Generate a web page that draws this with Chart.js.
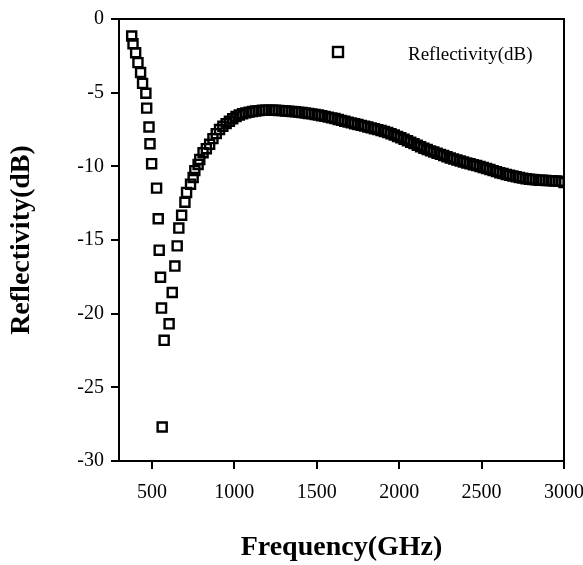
<!DOCTYPE html>
<html>
<head>
<meta charset="utf-8">
<script src="https://cdn.jsdelivr.net/npm/chart.js@4.4.1/dist/chart.umd.min.js"></script>
<style>
  body { margin: 0; background: #fff; }
  canvas { display: block; }
</style>
</head>
<body>
<canvas id="myChart" width="583" height="565"></canvas>
<script>
const freqGHz = [
  377, 385, 401, 415, 431, 443, 463, 468, 482, 488, 498, 528, 538, 544, 552, 558, 574, 562,
  604, 623, 639, 653, 663, 680, 700, 710, 734, 750, 760, 780, 790, 810,
  830, 850, 870, 890, 910, 930, 950, 970, 990, 1010, 1030, 1050, 1070, 1090, 1110, 1130, 1150, 1170, 1190,
  1210, 1230, 1250, 1270, 1290, 1310, 1330, 1350, 1370, 1390, 1410, 1430, 1450, 1470, 1490,
  1510, 1530, 1550, 1570, 1590, 1610, 1630, 1650, 1670, 1690, 1710, 1730, 1750, 1770, 1790,
  1810, 1830, 1850, 1870, 1890, 1910, 1930, 1950, 1970, 1990, 2010, 2030, 2050, 2070, 2090,
  2110, 2130, 2150, 2170, 2190, 2210, 2230, 2250, 2270, 2290, 2310, 2330, 2350, 2370, 2390,
  2410, 2430, 2450, 2470, 2490, 2510, 2530, 2550, 2570, 2590, 2610, 2630, 2650, 2670, 2690,
  2710, 2730, 2750, 2770, 2790, 2810, 2830, 2850, 2870, 2890, 2910, 2930, 2950, 2970, 3000
];
const reflDb = [
  -1.16, -1.68, -2.29, -2.96, -3.63, -4.37, -5.04, -6.05, -7.33, -8.47, -9.82, -11.48, -13.56, -15.69, -17.53, -19.62, -21.81, -27.69,
  -20.69, -18.56, -16.77, -15.40, -14.19, -13.32, -12.44, -11.77, -11.21, -10.76, -10.29, -9.87, -9.53, -9.08,
  -8.80, -8.50, -8.12, -7.78, -7.50, -7.28, -7.10, -6.94, -6.77, -6.62, -6.51, -6.43, -6.37, -6.32, -6.28, -6.25, -6.22, -6.20, -6.19,
  -6.19, -6.19, -6.20, -6.21, -6.22, -6.24, -6.26, -6.28, -6.30, -6.32, -6.35, -6.38, -6.41, -6.44, -6.48,
  -6.51, -6.56, -6.61, -6.66, -6.71, -6.76, -6.82, -6.88, -6.94, -7.00, -7.05, -7.11, -7.16, -7.22, -7.27,
  -7.33, -7.39, -7.45, -7.51, -7.57, -7.64, -7.71, -7.79, -7.88, -7.97, -8.06, -8.16, -8.26, -8.36, -8.46,
  -8.57, -8.67, -8.77, -8.86, -8.95, -9.03, -9.11, -9.19, -9.27, -9.35, -9.43, -9.50, -9.57, -9.64, -9.71,
  -9.77, -9.83, -9.89, -9.95, -10.01, -10.08, -10.15, -10.22, -10.29, -10.36, -10.43, -10.49, -10.55, -10.61, -10.66,
  -10.71, -10.76, -10.80, -10.84, -10.87, -10.90, -10.92, -10.94, -10.95, -10.96, -10.97, -10.98, -10.99, -11.01, -11.10
];
const xTicks = [500, 1000, 1500, 2000, 2500, 3000];
const yTicks = [0, -5, -10, -15, -20, -25, -30];
const seriesName = 'Reflectivity(dB)';

const serif = '"Liberation Serif", "Times New Roman", serif';

// box round the plot, plus the legend that sits inside it
const framePlugin = {
    id: 'frame',
    afterDraw(chart) {
        const ctx = chart.ctx;
        const a = chart.chartArea;
        ctx.save();
        ctx.strokeStyle = '#000';
        ctx.lineWidth = 2;
        ctx.strokeRect(a.left, a.top, a.right - a.left, a.bottom - a.top);

        // legend entry
        ctx.lineWidth = 2.4;
        ctx.strokeRect(333, 47, 10, 10);
        ctx.fillStyle = '#000';
        ctx.font = '19px ' + serif;
        ctx.textBaseline = 'middle';
        ctx.fillText(seriesName, 408, 55);
        ctx.restore();
    }
};

const points = freqGHz.map((f, i) => ({x: f, y: reflDb[i]}));

new Chart(document.getElementById('myChart').getContext('2d'), {
    type: 'scatter',
    data: {
        datasets: [{
            label: seriesName,
            data: points,
            pointStyle: 'rect',
            pointRadius: 6.4,
            pointBorderWidth: 2.4,
            borderColor: '#000',
            backgroundColor: 'rgba(0,0,0,0)'
        }]
    },
    options: {
        responsive: false,
        animation: false,
        layout: {padding: {top: 13, right: 0, left: 0, bottom: 0}},
        plugins: {
            legend: {display: false},
            tooltip: {enabled: false}
        },
        scales: {
            x: {
                type: 'linear',
                min: 300,
                max: 3000,
                afterBuildTicks: s => { s.ticks = xTicks.map(v => ({value: v})); },
                afterFit: s => {
                    s.height = 104;
                    s.paddingLeft = 0;
                    s.paddingRight = 19;
                },
                border: {display: true, color: '#000', width: 2},
                grid: {drawOnChartArea: false, drawTicks: true, tickLength: 8, color: '#000', lineWidth: 2},
                ticks: {
                    color: '#000',
                    font: {family: serif, size: 20},
                    padding: 12,
                    maxRotation: 0,
                    callback: v => String(v)
                },
                title: {
                    display: true,
                    text: 'Frequency(GHz)',
                    color: '#000',
                    font: {family: serif, size: 28, weight: 'bold'},
                    padding: {top: 0, bottom: 0}
                }
            },
            y: {
                type: 'linear',
                min: -30,
                max: 0,
                afterBuildTicks: s => { s.ticks = yTicks.map(v => ({value: v})); },
                afterFit: s => { s.width = 119; },
                border: {display: true, color: '#000', width: 2},
                grid: {drawOnChartArea: false, drawTicks: true, tickLength: 8, color: '#000', lineWidth: 2},
                ticks: {color: '#000', font: {family: serif, size: 20}, padding: 7, callback: v => String(v)},
                title: {
                    display: true,
                    text: 'Reflectivity(dB)',
                    color: '#000',
                    font: {family: serif, size: 28, weight: 'bold'},
                    padding: {top: 5, bottom: 0}
                }
            }
        }
    },
    plugins: [framePlugin]
});
</script>
</body>
</html>
